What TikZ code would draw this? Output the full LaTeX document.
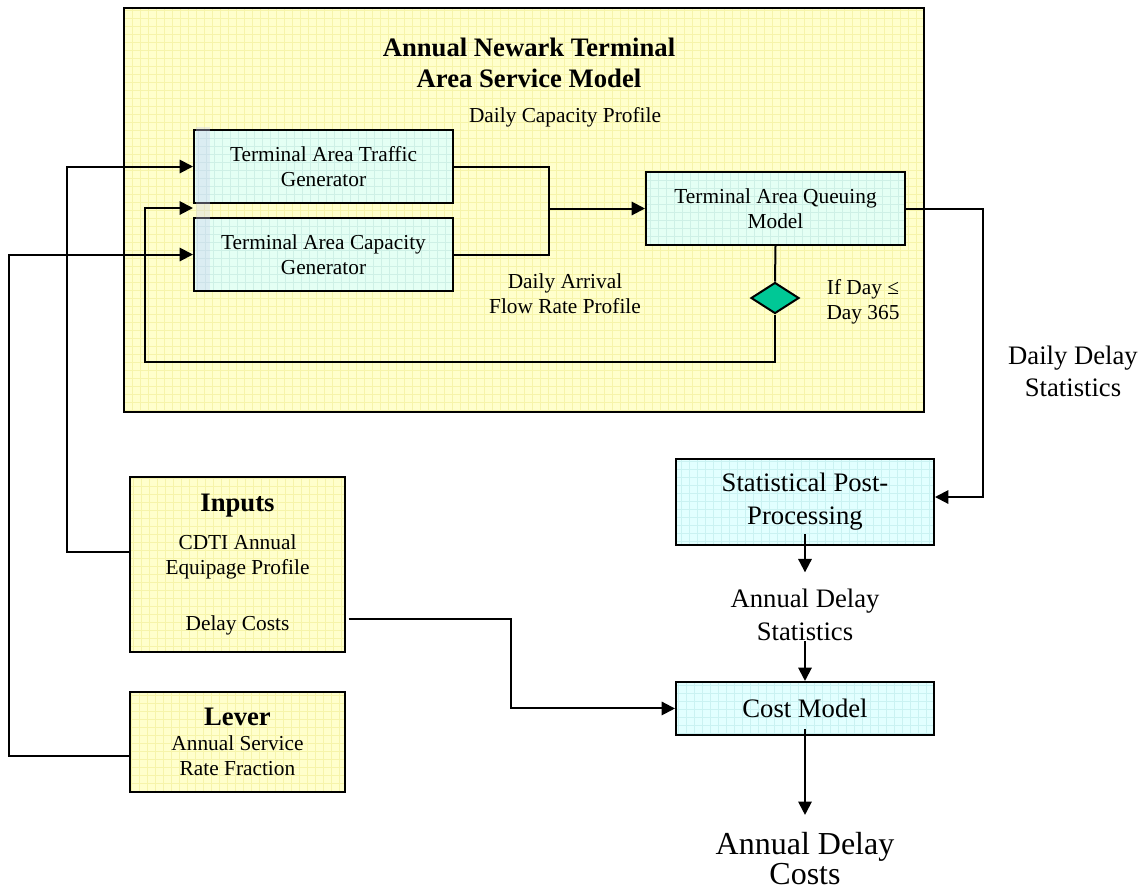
\documentclass[tikz,border=0pt]{standalone}
\usepackage{fontspec}
\setmainfont{Liberation Serif}
\usetikzlibrary{arrows.meta,shapes.geometric}

\definecolor{paneyellow}{RGB}{255,255,204}
\definecolor{panegrid}{RGB}{246,244,170}
\definecolor{mintfill}{RGB}{228,255,244}
\definecolor{mintgrid}{RGB}{206,240,230}
\definecolor{skyfill}{RGB}{226,255,255}
\definecolor{skygrid}{RGB}{202,242,242}
\definecolor{checkteal}{RGB}{0,200,150}
\definecolor{stripblue}{RGB}{205,205,240}

\begin{document}
\begin{tikzpicture}[x=0.75pt, y=-0.75pt,
  gridfill/.style 2 args={fill=#1, path picture={
      \draw[#2, line width=0.4pt] (path picture bounding box.south west)
        grid[step=6pt] (path picture bounding box.north east);}},
  panel/.style={draw, line width=1.5pt, gridfill={paneyellow}{panegrid}},
  genbox/.style={draw, line width=1.5pt, gridfill={mintfill}{mintgrid},
    minimum width=194.25pt, minimum height=54.75pt, inner sep=0pt,
    align=center, font=\fontsize{16}{18.4}\selectfont},
  statbox/.style={draw, line width=1.5pt, gridfill={skyfill}{skygrid},
    minimum width=193.5pt, inner sep=0pt,
    align=center, font=\fontsize{20}{24.75}\selectfont},
  inbox/.style={panel, minimum width=161.25pt, inner sep=0pt,
    align=center, font=\fontsize{16}{18.75}\selectfont},
  plaintext/.style={inner sep=0pt, align=center, font=\fontsize{16}{18.75}\selectfont},
  bigtext/.style={inner sep=0pt, align=center, font=\fontsize{20}{24.75}\selectfont},
  wire/.style={line width=1.5pt},
  flow/.style={wire, -{Triangle[length=10pt,width=10pt]}}]

  \useasboundingbox (0,0) rectangle (1143,894);

  %% service model frame
  \node (Frame) [panel, minimum width=600pt, minimum height=303pt] at (524,210) {};
  \node (Title) [bigtext, font=\fontsize{20}{23.25}\selectfont\bfseries] at (529,62.5)
    {Annual Newark Terminal\\Area Service Model};

  \node (Traffic) [genbox] at (323.5,166.5) {Terminal Area Traffic\\Generator};
  \node (Capacity) [genbox] at (323.5,254.5) {Terminal Area Capacity\\Generator};
  \fill[stripblue, opacity=0.35] (196,127) rectangle (210,290);
  \node (Queuing) [genbox] at (775.5,208.5) {Terminal Area Queuing\\Model};
  \node (Check) [diamond, draw, line width=1.5pt, fill=checkteal, inner sep=0pt,
    minimum width=36pt, minimum height=23.25pt] at (775,298) {};

  \node (CapLabel) [plaintext] at (565,117) {Daily Capacity Profile};
  \node (FlowLabel) [plaintext] at (565,293.5) {Daily Arrival\\Flow Rate Profile};
  \node (DayLabel) [plaintext] at (863,301.5) {If Day ≤\\Day 365};

  %% inputs and lever
  \node (Inputs) [inbox, minimum height=131.25pt] at (237.5,564.5)
    {{\fontsize{20}{24}\selectfont\bfseries Inputs}\\[9.75pt]
     CDTI Annual\\Equipage Profile\\[23.25pt]Delay Costs};
  \node (Lever) [inbox, minimum height=75pt, node distance=133.1pt, below of=Inputs]
    {{\fontsize{20}{24}\selectfont\bfseries Lever}\\Annual Service\\Rate Fraction};

  %% post processing chain
  \node (DailyStats) [bigtext, font=\fontsize{20}{24}\selectfont] at (1073,371.5)
    {Daily Delay\\Statistics};
  \node (Stats) [statbox, minimum height=64.5pt] at (805,502)
    {Statistical Post-\\Processing};
  \node (AnnStats) [bigtext, node distance=84.75pt, below of=Stats]
    {Annual Delay\\Statistics};
  \node (Cost) [statbox, minimum height=39.75pt, node distance=70.1pt, below of=AnnStats]
    {Cost Model};
  \node (AnnCosts) [inner sep=0pt, align=center, font=\fontsize{24}{23}\selectfont,
    node distance=112.5pt, below of=Cost] {Annual Delay\\Costs};

  \coordinate (Join) at (549,208.5);
  \coordinate (Gap) at (193,208);
  \coordinate (Loop) at (145,362);
  \coordinate (DelayBus) at (983,497);

  %% connectors
  \draw[wire] (Traffic.east) -| (Join) |- (Capacity.east);
  \draw[flow] (Join) -- (Queuing.west);
  \draw[wire] (Queuing.south) -- (Check.north);
  \draw[flow] (Check.south) |- (Loop) |- (Gap);
  \draw[flow] ([yshift=9.4pt]Inputs.west) -- ++(-62,0) |- (Traffic.west);
  \draw[flow] ([yshift=-10.5pt]Lever.west) -- ++(-120,0) |- (Capacity.west);
  \draw[flow] (Queuing.east) -| (DelayBus) -- ([yshift=3.75pt]Stats.east);
  \draw[flow, shorten >=12.4pt] ([yshift=9pt]Stats.south) -- (AnnStats.north);
  \draw[flow] (AnnStats.south) -- (Cost.north);
  \draw[flow] ([xshift=2pt, yshift=-40.9pt]Inputs.east) -- ++(162,0) |- (Cost.west);
  \draw[flow, shorten >=12.5pt] ([yshift=5.25pt]Cost.south) -- (AnnCosts.north);

\end{tikzpicture}
\end{document}
